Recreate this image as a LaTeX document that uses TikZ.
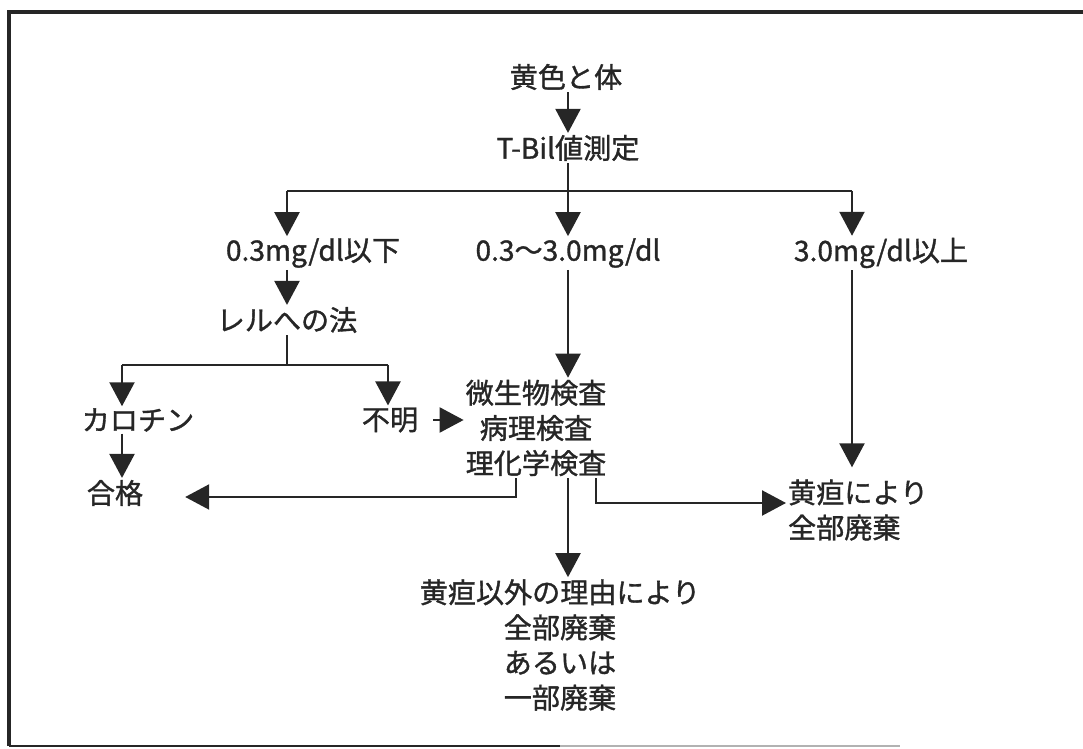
\documentclass[tikz,border=0pt]{standalone}
\usepackage{fontspec}
\newfontfamily\jp{Noto Sans CJK JP}[FakeBold=1.2]
\usetikzlibrary{arrows.meta,calc}
\definecolor{ink}{HTML}{262626}
\tikzset{
  lbl/.style={font=\jp\fontsize{16}{20}\selectfont, text=ink, inner sep=1pt, align=center},
  ln/.style={draw=ink, line width=1.3pt},
  arr/.style={ln, -{Triangle[width=0.5cm,length=0.48cm]}},
}
\begin{document}
\begin{tikzpicture}[x=0.02cm,y=-0.02cm]
\useasboundingbox (0,0) rectangle (1083,749);
% frame
\draw[ink, line width=2pt] (9,746) -- (9,12) -- (1083,12);
\draw[ink, line width=1.2pt] (9,746) -- (560,746);
\draw[gray!60, line width=1pt] (560,746) -- (900,746);
% nodes
\node[lbl] (n1) at (566,77) {黄色と体};
\node[lbl] (n2) at (568,148) {T-Bil値測定};
\node[lbl] (n3) at (313,253) {0.3mg/dl以下};
\node[lbl] (n4) at (568,253) {0.3～3.0mg/dl};
\node[lbl] (n5) at (881,253) {3.0mg/dl以上};
\node[lbl] (n6) at (287,320) {レルへの法};
\node[lbl] (n7) at (138,420) {カロチン};
\node[lbl] (n8) at (390,420) {不明};
\node[lbl] (n9) at (536,428) {微生物検査\\病理検査\\理化学検査};
\node[lbl] (n10) at (115,493) {合格};
\node[lbl, align=left, anchor=west] (n11) at (786,510) {黄疸により\\全部廃棄};
\node[lbl] (n12) at (560,645) {黄疸以外の理由により\\全部廃棄\\あるいは\\一部廃棄};
% coordinates
\coordinate (bL) at (287,191);
\coordinate (bR) at (852,191);
\coordinate (cL) at (122,365);
\coordinate (cR) at (388,365);
\coordinate (dL) at (516,497);
\coordinate (dR) at (596,503);
% connectors
\draw[arr] (n1.south -| n2) -- (n2.north);
\draw[arr] (n2.south) -- (n4.north);
\draw[ln] (bL) -- (bR);
\draw[arr] (bL) -- (bL |- n3.north);
\draw[arr] (bR) -- (bR |- n5.north);
\draw[arr] (n3.south -| n6) -- (n6.north);
\draw[ln] (n6.south) -- (n6.south |- cL);
\draw[ln] (cL) -- (cR);
\draw[arr] (cL) -- (cL |- n7.north);
\draw[arr] (cR) -- (cR |- n8.north);
\draw[arr] (n7.south -| cL) -- (n10.north -| cL);
\draw[arr, shorten <=0.26cm] (n8.east) -- (n9.west |- n8);
\draw[arr] (n4.south) -- (n9.north -| n4);
\draw[arr, shorten >=0.8cm] (dL |- n9.south) -- (dL) -- (n10.east |- dL);
\draw[arr] (n9.south -| n4) -- (n12.north -| n4);
\draw[arr] (dR |- n9.south) -- (dR) -- (n11.west |- dR);
\draw[arr, shorten >=0.2cm] (n5.south -| bR) -- (n11.north -| bR);
\end{tikzpicture}
\end{document}
